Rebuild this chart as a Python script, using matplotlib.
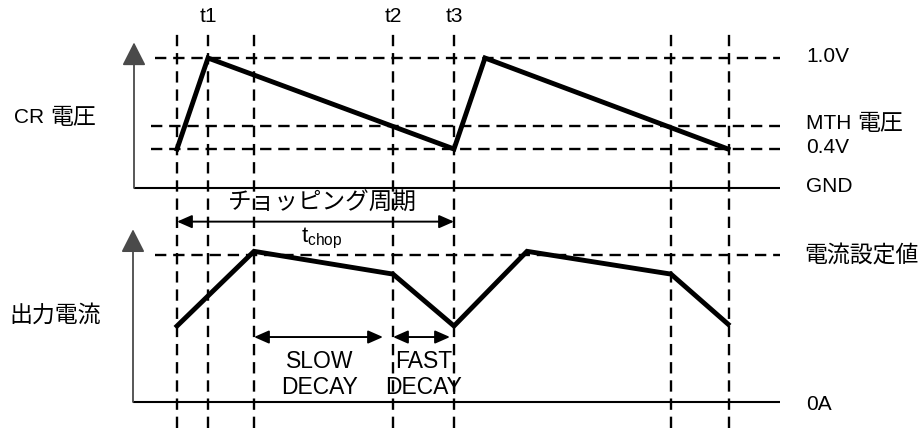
import matplotlib
matplotlib.use("Agg")
import matplotlib.pyplot as plt

plt.rcParams['font.family'] = ['Liberation Sans', 'Noto Sans CJK JP', 'DejaVu Sans']
plt.rcParams['mathtext.fontset'] = 'custom'
plt.rcParams['mathtext.rm'] = 'Liberation Sans'

# time axis (arbitrary units, left to right)
mark_t = [177, 208, 254, 393, 454, 671, 729]
mark_names = {208: 't1', 393: 't2', 454: 't3'}

# CR voltage levels (schematic, GND = 0, 1.0V = 1)
cr_level_names = ['1.0V', 'MTH 電圧', '0.4V', 'GND']
cr_level_vals = [1.0, 0.477, 0.30, 0.0]
cr_t = [177, 208, 454, 485, 728]
cr_v = [0.30, 1.0, 0.30, 1.0, 0.30]

# output current levels (schematic, 0A = 0, set value = 1)
cur_level_names = ['電流設定値', '0A']
cur_level_vals = [1.0, 0.0]
cur_t = [177, 254, 393, 454, 527, 671, 728]
cur_i = [0.517, 1.025, 0.87, 0.517, 1.025, 0.87, 0.53]

chop_span = (177, 454)
slow_span = (254, 383)
fast_span = (393, 450)

W, H = 922, 428
JP = ['Noto Sans CJK JP', 'Liberation Sans']
LAT = 15
JPS = 16.5


def ylim_for(row0, row1):
    # value 0 sits on image row row0, value 1 on row row1
    s = float(row0 - row1)
    return (row0 - H) / s, row0 / s


def arrow2(ax, x0, x1, y):
    ax.annotate('', xy=(x1, y), xytext=(x0, y),
                arrowprops=dict(arrowstyle='<|-|>,head_length=0.5,head_width=0.22',
                                color='black', lw=1.4, mutation_scale=18,
                                shrinkA=0, shrinkB=0))


def axis_arrow(ax, x, y0, y1):
    ax.annotate('', xy=(x, y1), xytext=(x, y0),
                arrowprops=dict(arrowstyle='-|>,head_length=0.55,head_width=0.28',
                                color='#4a4a4a', lw=1.3, mutation_scale=26,
                                shrinkA=0, shrinkB=0))


fig = plt.figure(figsize=(W / 100, H / 100), dpi=100)
fig.patch.set_facecolor('white')
ax_v = fig.add_axes([0, 0, 1, 1])
ax_i = fig.add_axes([0, 0, 1, 1])
for ax in (ax_v, ax_i):
    ax.set_xlim(0, W)
    ax.axis('off')
    ax.patch.set_alpha(0)
ax_v.set_ylim(*ylim_for(188, 58))
ax_i.set_ylim(*ylim_for(402, 255))

dash = (0, (4.8, 2.9))
dlw = 1.7

# vertical time markers through both panels
ax_v.vlines(mark_t, 0, 1 - 31 / H, transform=ax_v.get_xaxis_transform(),
            colors='black', lw=dlw, linestyles=[dash])
for t, name in mark_names.items():
    ax_v.text(t, 1 - 17 / H, name, transform=ax_v.get_xaxis_transform(),
              ha='center', va='center', fontsize=LAT)

# ---- CR voltage panel
ax_v.hlines(1.0, 155, 780, colors='black', lw=dlw, linestyles=[dash])
ax_v.hlines(cr_level_vals[1:3], 151, 780, colors='black', lw=dlw, linestyles=[dash])
ax_v.hlines(0.0, 134, 780, colors='black', lw=1.5)
axis_arrow(ax_v, 134, 0.0, 1.12)
ax_v.plot(cr_t, cr_v, color='black', lw=3.5, solid_joinstyle='miter')

for name, val in zip(cr_level_names, cr_level_vals):
    if name.startswith('MTH'):
        txt = ax_v.text(806, val + 0.02, 'MTH ', fontsize=LAT, va='center')
        ax_v.annotate('電圧', xy=(1, 0.5), xycoords=txt, va='center',
                      fontsize=JPS, family=JP)
    else:
        ax_v.text(806, val + 0.01, name, fontsize=LAT, va='center')

txt = ax_v.text(14, 0.54, 'CR ', fontsize=LAT, va='center')
ax_v.annotate('電圧', xy=(1, 0.5), xycoords=txt, va='center',
              fontsize=JPS, family=JP)

# ---- output current panel
ax_i.hlines(1.0, 155, 780, colors='black', lw=dlw, linestyles=[dash])
ax_i.hlines(0.0, 133, 780, colors='black', lw=1.5)
axis_arrow(ax_i, 133, 0.0, 1.175)
ax_i.plot(cur_t, cur_i, color='black', lw=3.5, solid_joinstyle='miter')

ax_i.text(804, cur_level_vals[0], cur_level_names[0], fontsize=JPS,
          va='center', family=JP)
ax_i.text(806, cur_level_vals[1] - 0.015, cur_level_names[1], fontsize=LAT,
          va='center')
ax_i.text(9, 0.59, '出力電流', fontsize=JPS, va='center', family=JP)

# chopping period
arrow2(ax_i, chop_span[0], chop_span[1], 1.227)
ax_i.text(322, 1.354, 'チョッピング周期', fontsize=17, ha='center',
          va='center', family=JP)
ax_i.text(322, 1.115, r'$\mathregular{t_{chop}}$', fontsize=LAT + 1,
          ha='center', va='center')

# decay spans
arrow2(ax_i, slow_span[0], slow_span[1], 0.442)
arrow2(ax_i, fast_span[0], fast_span[1], 0.442)
ax_i.text(320, 0.187, 'SLOW\nDECAY', fontsize=16.5, ha='center', va='center',
          linespacing=1.18)
ax_i.text(424, 0.187, 'FAST\nDECAY', fontsize=16.5, ha='center', va='center',
          linespacing=1.18)

fig.savefig('out.png', dpi=100, facecolor='white')
